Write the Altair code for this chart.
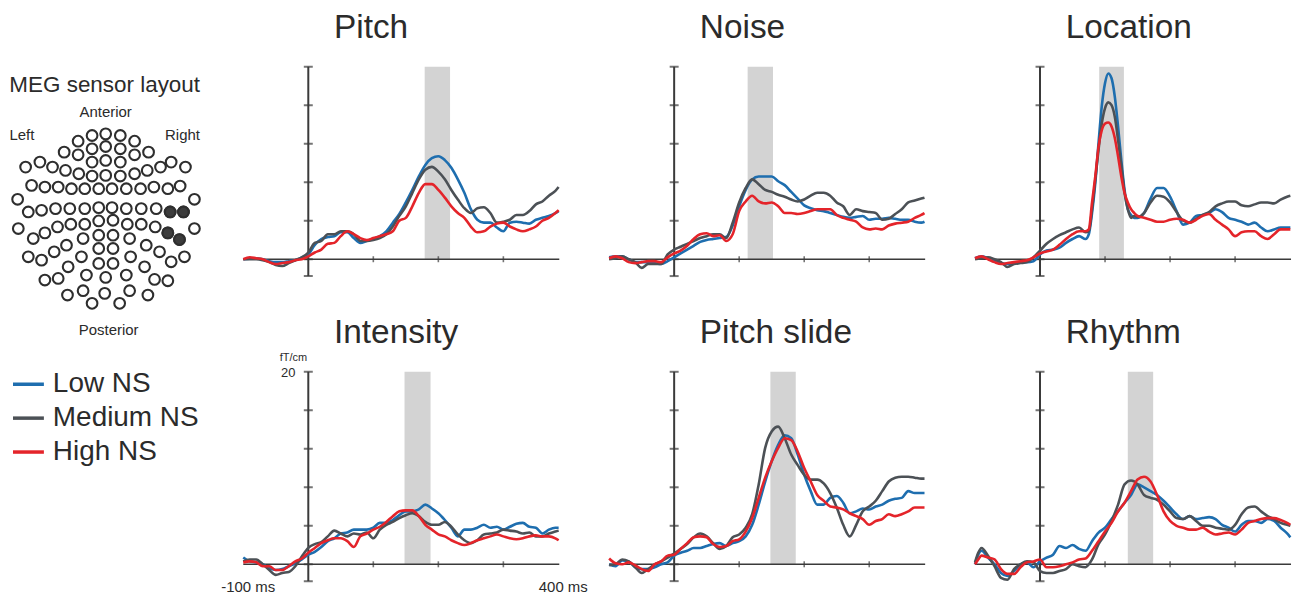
import altair as alt
import pandas as pd

FONT = "Liberation Sans"
TXT = "#2b2b2b"
AX = "#3a3a3a"

LEVELS = ["Low NS", "Medium NS", "High NS"]
COLORS = ["#1e6eaf", "#4c5156", "#e4242a"]

# ---- time grids (ms) ----
T = list(range(-100, 381, 10)) + [385]
T_LOC = list(range(-100, 71, 10)) + list(range(75, 146, 5)) + list(range(150, 381, 10)) + [385]
T_RHY = [-100, -95] + list(range(-90, 381, 10)) + [385]

# ---- Pitch ----
pitch_low = [0, 0.05, 0.1, 0, -0.2, -0.3, -0.3, -0.2, -0.1, 0.2,
             0.5, 1.5, 2.1, 2.3, 2.4, 2.8, 2.8, 2.2, 1.7, 1.9,
             2.1, 2.4, 2.9, 3.8, 4.7, 5.9, 7.2, 8.6, 9.8, 10.5,
             10.7, 10.3, 9.5, 8.3, 6.9, 5.2, 4.1, 3.8, 3.8, 3.3,
             2.9, 3.8, 3.9, 3.8, 3.7, 4.1, 4.3, 4.5, 4.8,
             5.0]
pitch_med = [0, 0, 0, -0.1, -0.3, -0.6, -0.7, -0.4, -0.1, 0.2,
             0.7, 1.7, 1.9, 2.6, 2.6, 2.9, 2.9, 2.6, 1.9, 1.9,
             2.0, 2.2, 2.6, 3.4, 4.5, 5.5, 6.9, 8.3, 9.3, 9.6,
             9.1, 8.3, 7.2, 6.2, 5.3, 4.8, 5.3, 5.4, 4.8, 3.8,
             3.9, 4.1, 4.6, 4.6, 5.0, 5.7, 6.0, 6.6, 7.1,
             7.5]
pitch_high = [0, 0.2, 0.1, 0, -0.3, -0.5, -0.4, -0.3, -0.1, 0,
              0.3, 0.7, 1.0, 1.6, 1.7, 2.4, 2.9, 2.6, 2.2, 2.0,
              2.2, 2.4, 2.6, 2.9, 4.0, 4.3, 5.5, 6.9, 7.8, 7.8,
              7.2, 6.4, 5.5, 4.8, 4.3, 3.4, 2.8, 2.9, 3.4, 3.7,
              3.8, 3.4, 3.1, 2.9, 3.1, 3.4, 4.0, 4.3, 4.8,
              5.1]

# ---- Noise ----
noise_low = [0.2, 0.3, 0.3, 0, -0.3, -0.3, -0.3, -0.4, -0.5, -0.2,
             0.2, 0.6, 1.0, 1.4, 1.8, 2.0, 2.1, 2.2, 2.3, 3.5,
             5.5, 7.2, 8.3, 8.6, 8.6, 8.6, 8.1, 7.7, 7.0, 6.3,
             5.6, 5.3, 5.1, 5.0, 4.8, 4.6, 4.4, 4.3, 4.4, 4.5,
             4.1, 4.2, 4.2, 4.3, 4.2, 4.1, 4.1, 3.9, 3.8,
             3.9]
noise_med = [0, 0.1, 0.3, 0, -0.3, -0.9, -0.5, -0.5, -0.5, 0.5,
             1.0, 1.3, 1.6, 1.9, 2.2, 2.4, 2.6, 2.6, 2.2, 3.8,
             5.9, 7.4, 8.3, 7.8, 7.2, 7.0, 6.7, 6.5, 6.2, 6.0,
             6.2, 6.6, 6.9, 6.9, 6.6, 5.9, 5.5, 4.6, 5.2, 5.0,
             4.9, 4.8, 4.1, 4.2, 4.7, 5.2, 5.9, 6.1, 6.3,
             6.4]
noise_high = [0.1, 0.3, 0.1, -0.3, -0.4, -0.3, -0.2, -0.2, -0.3, 0.2,
              0.6, 0.9, 1.4, 2.1, 2.6, 2.7, 2.4, 2.5, 1.9, 2.6,
              5.0, 6.0, 6.6, 6.0, 5.8, 5.9, 5.5, 4.8, 4.8, 4.7,
              4.8, 5.0, 5.2, 5.2, 5.2, 4.6, 4.3, 4.1, 3.9, 3.3,
              3.1, 3.2, 3.1, 3.5, 3.7, 3.8, 3.9, 4.3, 4.6,
              4.8]

# ---- Location ----
loc_low = [0.1, 0.3, 0.1, -0.2, -0.4, -0.5, -0.4, -0.3, -0.3, -0.2,
           0.5, 0.9, 1.0, 1.2, 1.7, 2.1, 2.4, 2.1,
           2.6, 4.8, 7.9, 12.1, 15.9, 18.3, 19.3, 18.8, 16.9, 13.8, 10.3, 7.2, 5.2, 4.6, 4.3,
           4.3, 4.8, 6.3, 7.4, 7.4, 6.5, 5.0, 3.6, 3.8, 4.5, 4.6, 4.8, 5.2, 4.9, 4.3, 4.1,
           3.9, 3.6, 3.8, 3.3, 2.9, 3.1, 3.3, 3.3,
           3.3]
loc_med = [0, 0.1, 0.2, 0, -0.3, -0.8, -0.5, -0.4, -0.3, 0.2,
           0.9, 1.6, 2.1, 2.5, 2.8, 3.1, 3.3, 2.8,
           2.9, 5.2, 8.3, 11.4, 14.1, 15.7, 16.3, 16.0, 14.8, 12.4, 9.7, 6.9, 5.2, 4.3, 4.5,
           4.4, 4.8, 5.9, 6.6, 6.5, 5.9, 4.9, 4.0, 3.8, 4.2, 4.6, 4.9, 5.5, 5.8, 6.0, 6.0,
           5.6, 5.5, 5.7, 5.9, 5.9, 5.8, 6.2, 6.5,
           6.6]
loc_high = [0.1, 0.3, 0, -0.3, -0.5, -0.4, -0.3, -0.2, -0.1, 0.2,
            0.6, 0.8, 1.0, 1.5, 2.1, 2.6, 2.9, 2.9,
            3.1, 5.9, 8.6, 11.7, 13.4, 14.1, 14.2, 13.8, 12.6, 10.7, 8.6, 6.9, 5.9, 5.2, 4.8,
            4.5, 4.3, 4.1, 3.9, 3.9, 4.1, 4.2, 4.1, 3.8, 4.1, 4.5, 4.7, 4.1, 3.6, 3.1, 2.4,
            2.8, 2.9, 2.9, 2.4, 2.1, 2.6, 3.1, 3.1,
            3.1]

# ---- Intensity ----
int_low = [0.7, 0.3, 0.2, 0, -0.4, -0.6, -0.5, -0.2, 0.1, 0.5,
           1.0, 1.3, 1.8, 2.4, 2.7, 3.2, 3.3, 3.6, 3.6, 3.6,
           3.8, 4.3, 4.3, 4.6, 5.1, 5.5, 5.5, 5.7, 6.2, 5.8,
           5.3, 4.6, 3.8, 2.9, 3.6, 3.6, 3.8, 4.1, 3.8, 3.9,
           3.6, 3.9, 4.2, 4.3, 3.9, 3.8, 3.2, 3.6, 3.8,
           3.8]
int_med = [0.3, 0.5, 0.5, 0, -0.6, -1.1, -0.9, -0.8, -0.2, 0.8,
           1.7, 2.1, 2.3, 2.9, 3.5, 3.2, 2.9, 3.2, 3.1, 3.3,
           2.7, 3.6, 4.1, 4.4, 4.8, 5.1, 5.3, 5.0, 4.4, 4.1,
           4.1, 4.4, 3.9, 3.1, 2.5, 2.2, 2.5, 3.1, 3.2, 3.3,
           3.6, 3.5, 3.4, 3.2, 3.3, 2.9, 2.9, 3.2, 3.4,
           3.5]
int_high = [0.2, 0.3, 0.2, -0.2, -0.2, -0.6, -0.6, -0.2, 0.3, 0.6,
            1.2, 1.7, 2.2, 2.5, 2.7, 2.7, 2.4, 1.8, 2.9, 3.2,
            3.6, 3.9, 4.4, 5.0, 5.5, 5.6, 5.6, 5.0, 4.1, 3.6,
            3.1, 2.9, 2.5, 2.2, 2.0, 2.2, 2.5, 2.7, 2.9, 3.1,
            2.9, 2.7, 2.6, 2.7, 2.9, 3.0, 2.9, 2.9, 2.7,
            2.5]

# ---- Pitch slide ----
slide_low = [0, -0.2, 0.4, 0.3, -0.3, -0.5, -0.5, -0.3, 0, 0.2,
             0.9, 1.2, 1.4, 1.7, 1.7, 1.9, 2.1, 2.2, 1.9, 2.2,
             2.4, 2.9, 4.1, 6.2, 8.6, 10.7, 12.4, 13.4, 13.1, 11.4,
             9.3, 7.6, 6.2, 6.2, 6.9, 7.1, 6.4, 5.3, 5.5, 5.8,
             5.7, 6.0, 6.2, 6.6, 6.8, 6.9, 7.6, 7.4, 7.4,
             7.4]
slide_med = [-0.1, 0, 0.5, 0.3, -0.3, -0.9, -0.5, 0, 0.3, 0.7,
             1.1, 1.6, 2.1, 2.8, 3.2, 2.9, 2.2, 1.6, 1.9, 2.8,
             3.1, 3.8, 5.2, 8.3, 12.1, 13.8, 14.3, 13.1, 11.4, 10.3,
             9.3, 8.8, 8.8, 8.4, 7.4, 5.9, 4.1, 2.9, 4.1, 5.5,
             6.0, 6.6, 7.6, 8.6, 9.0, 9.1, 9.1, 9.0, 8.9,
             8.9]
slide_high = [0.6, 0.1, 0, 0.2, -0.1, -0.5, -0.7, 0, 0.3, 0.9,
              1.0, 1.6, 2.2, 2.8, 2.9, 2.8, 2.1, 1.8, 1.9, 2.4,
              2.6, 3.4, 4.8, 6.9, 9.0, 10.7, 12.1, 13.1, 12.9, 11.7,
              10.0, 8.6, 7.2, 6.6, 6.0, 5.9, 5.7, 5.3, 5.0, 4.7,
              4.1, 4.5, 4.7, 5.2, 5.0, 5.2, 5.5, 5.9, 5.9,
              5.9]

# ---- Rhythm ----
rhy_low = [0, 1.0, 1.4, 0.7, 0, -0.9, -1.2, -0.7, 0, 0.2, -0.3,
           0.3, 0.7, 1.0, 1.9, 1.7, 2.0, 1.6, 1.4, 2.4, 3.3,
           3.8, 4.7, 5.5, 6.4, 7.2, 8.3, 8.0, 7.6, 7.2, 6.6,
           5.9, 5.2, 4.7, 5.0, 4.7, 4.8, 4.9, 4.7, 4.1, 3.8,
           3.4, 4.1, 4.5, 4.5, 4.3, 4.7, 4.5, 3.8, 3.2,
           2.8]
rhy_med = [0.2, 1.2, 1.7, 0.9, -0.2, -1.4, -1.6, -0.5, 0, 0.3, 0.2,
           -0.7, -0.9, -0.9, -0.7, -0.5, 0, -0.2, -0.3, 0.5, 2.1,
           3.1, 4.5, 6.2, 8.3, 8.7, 8.3, 7.2, 6.9, 6.7, 6.2,
           5.5, 4.8, 4.7, 5.0, 4.5, 4.0, 4.0, 3.8, 3.7, 3.6,
           4.1, 5.2, 5.9, 6.0, 5.5, 5.0, 4.7, 4.3, 4.1,
           4.0]
rhy_high = [0, 0.5, 0.9, 0.7, 0.5, -0.5, -1.0, -1.0, -0.3, 0.2, 0.3,
            0.5, -0.3, -0.3, -0.2, 0, 0.2, 0.5, 0.6, 1.4, 2.4,
            3.4, 4.3, 5.5, 6.4, 7.6, 8.8, 9.1, 8.6, 7.2, 5.5,
            4.5, 4.0, 3.8, 3.6, 3.6, 3.8, 3.4, 3.1, 3.2, 3.3,
            3.1, 3.6, 4.3, 4.5, 4.7, 4.8, 4.8, 4.6, 4.3,
            4.1]

# analysis windows (ms) shaded grey
WINDOWS = {"Pitch": (179, 218), "Noise": (113, 152), "Location": (91, 129),
           "Intensity": (148, 188), "Pitch slide": (148, 187), "Rhythm": (135, 174)}

X_MIN, X_MAX = -100, 386
Y_MIN, Y_MAX = -1.75, 20
Y_TICKS = [-1.75, 0, 4, 8, 12, 16, 20]
X_TICKS = [100, 200, 300]
AXIS_TEXTS = ["fT/cm", "20", "-100 ms", "400 ms"]

# ---- sensor layout (layout units) ----
SENSORS = [
    (262, 45), (303, 40), (347, 45), (220, 62), (390, 62),
    (262, 85), (303, 78), (347, 85), (178, 95), (432, 95),
    (220, 103), (390, 103), (262, 125), (303, 120), (347, 125),
    (105, 125), (500, 125), (62, 140), (143, 140), (468, 140), (543, 140),
    (182, 150), (428, 150), (222, 160), (390, 160),
    (262, 167), (303, 165), (347, 167),
    (80, 195), (120, 200), (160, 200), (200, 205), (240, 205), (282, 205),
    (322, 205), (365, 205), (408, 205), (448, 200), (490, 205), (527, 197),
    (38, 237), (570, 237),
    (70, 275), (110, 270), (152, 265), (195, 265), (240, 265), (282, 262),
    (322, 262), (365, 265), (410, 265), (455, 265), (497, 275), (537, 275),
    (40, 325), (120, 338), (158, 320), (198, 312), (240, 312), (282, 302),
    (325, 300), (368, 312), (410, 312), (452, 320), (490, 338), (570, 325),
    (85, 355), (525, 358),
    (282, 345), (325, 345), (235, 355), (375, 355), (185, 375), (425, 375),
    (148, 395), (465, 395), (70, 410), (110, 420), (540, 410), (500, 425),
    (282, 385), (325, 385), (230, 410), (378, 410),
    (190, 440), (420, 440), (282, 430), (325, 430),
    (120, 480), (160, 475), (245, 465), (365, 465), (450, 478), (490, 482), (303, 472),
    (188, 525), (235, 512), (300, 520), (375, 512), (430, 525),
    (262, 550), (345, 550),
]
SELECTED = [(497, 275), (537, 275), (490, 338), (525, 358)]
LEFT_TEXTS = ["MEG sensor layout", "Anterior", "Left", "Right", "Posterior"]

PANEL_W, PANEL_H = 317, 210
LEFT_W = 186
ONE = pd.DataFrame({"k": [0]})


def panel(title, times, low, med, high, labelled=False):
    assert len(times) == len(low) == len(med) == len(high), title
    rows = []
    for lvl, vals in zip(LEVELS, (low, med, high)):
        for t, v in zip(times, vals):
            rows.append({"t": t, "v": v, "level": lvl})
    df = pd.DataFrame(rows)
    xs = alt.Scale(domain=[X_MIN, X_MAX], nice=False, zero=False)
    ys = alt.Scale(domain=[Y_MIN, Y_MAX], nice=False, zero=False)
    w0, w1 = WINDOWS[title]

    band = alt.Chart(pd.DataFrame({"start": [w0], "end": [w1]})).mark_rect(
        color="#d3d3d3").encode(
        x=alt.X("start:Q", scale=xs, axis=None), x2="end:Q",
        y=alt.YDatum(0, scale=ys, axis=None), y2=alt.Y2Datum(Y_MAX))

    yaxis = alt.Chart(ONE).mark_rule(color=AX, strokeWidth=2).encode(
        x=alt.XDatum(0, axis=None), y=alt.YDatum(Y_MIN, axis=None), y2=alt.Y2Datum(Y_MAX))
    xaxis = alt.Chart(ONE).mark_rule(color=AX, strokeWidth=1.6).encode(
        y=alt.YDatum(0, axis=None), x=alt.XDatum(X_MIN, axis=None), x2=alt.X2Datum(X_MAX))
    yt = alt.Chart(pd.DataFrame({"v": Y_TICKS})).mark_tick(
        orient="horizontal", size=9, thickness=2, color=AX).encode(
        x=alt.XDatum(0, axis=None), y=alt.Y("v:Q", axis=None))
    xt = alt.Chart(pd.DataFrame({"t": X_TICKS})).mark_tick(
        orient="vertical", size=6, thickness=1.6, color=AX).encode(
        x=alt.X("t:Q", axis=None), y=alt.YDatum(0, axis=None))

    lines = alt.Chart(df).mark_line(strokeWidth=2.6, interpolate="monotone").encode(
        x=alt.X("t:Q", scale=xs, axis=None),
        y=alt.Y("v:Q", scale=ys, axis=None),
        color=alt.Color("level:N", scale=alt.Scale(domain=LEVELS, range=COLORS),
                        legend=alt.Legend(orient="none", legendX=3, legendY=301,
                                          title=None, symbolType="stroke",
                                          symbolSize=961, symbolStrokeWidth=3.5,
                                          labelFont=FONT, labelFontSize=28,
                                          labelColor=TXT, labelOffset=7,
                                          rowPadding=2, padding=0)),
    )
    ttl = alt.Chart(pd.DataFrame({"s": [title]})).mark_text(
        font=FONT, fontSize=33.5, color=TXT, align="left", baseline="alphabetic",
        dx=91, dy=-29).encode(text="s:N", x=alt.XDatum(X_MIN, axis=None),
                              y=alt.YDatum(Y_MAX, axis=None))
    layers = [band, xaxis, yaxis, yt, xt, lines, ttl]
    if labelled:
        base = alt.Chart(pd.DataFrame({"s": AXIS_TEXTS}))
        layers += [
            base.transform_filter(alt.datum.s == "fT/cm").mark_text(
                font=FONT, fontSize=11, color=TXT, align="center", baseline="middle",
                dx=-15, dy=-14).encode(text="s:N", x=alt.XDatum(0, axis=None),
                                       y=alt.YDatum(Y_MAX, axis=None)),
            base.transform_filter(alt.datum.s == "20").mark_text(
                font=FONT, fontSize=13, color=TXT, align="right", baseline="middle",
                dx=-13, dy=1).encode(text="s:N", x=alt.XDatum(0, axis=None),
                                     y=alt.YDatum(Y_MAX, axis=None)),
            base.transform_filter(alt.datum.s == "-100 ms").mark_text(
                font=FONT, fontSize=15, color=TXT, align="center", baseline="middle",
                dx=5, dy=6).encode(text="s:N", x=alt.XDatum(X_MIN, axis=None),
                                   y=alt.YDatum(Y_MIN, axis=None)),
            base.transform_filter(alt.datum.s == "400 ms").mark_text(
                font=FONT, fontSize=15, color=TXT, align="center", baseline="middle",
                dx=4, dy=6).encode(text="s:N", x=alt.XDatum(X_MAX, axis=None),
                                   y=alt.YDatum(Y_MIN, axis=None)),
        ]
    return alt.layer(*layers).properties(width=PANEL_W, height=PANEL_H)


# ---- left column: sensor layout ----
sens = pd.DataFrame({"sx": [p[0] for p in SENSORS], "sy": [p[1] for p in SENSORS],
                     "sel": [p in SELECTED for p in SENSORS]})
lx = alt.Scale(domain=[9, 9 + 3 * LEFT_W], nice=False, zero=False)
ly = alt.Scale(domain=[-162, 3 * (PANEL_H - 54)], nice=False, zero=False, reverse=True)
rings = alt.Chart(sens).mark_point(shape="circle", filled=False, size=115, strokeWidth=2.1,
                                   color="#2e2e2e", opacity=1).encode(
    x=alt.X("sx:Q", scale=lx, axis=None), y=alt.Y("sy:Q", scale=ly, axis=None))
dots = alt.Chart(sens).transform_filter("datum.sel").mark_point(
    shape="circle", filled=True, size=115, color="#3c3c3c", stroke="#2e2e2e",
    strokeWidth=2.1, opacity=1).encode(
    x=alt.X("sx:Q", scale=lx, axis=None), y=alt.Y("sy:Q", scale=ly, axis=None))


def left_label(i, x, y, size):
    return alt.Chart(pd.DataFrame({"s": [LEFT_TEXTS[i]]})).mark_text(
        font=FONT, fontSize=size, color=TXT, align="center", baseline="middle").encode(
        text="s:N", x=alt.value(x), y=alt.value(y))


left_top = alt.layer(
    rings, dots,
    left_label(0, 97, 18, 22.5),
    left_label(1, 98, 45, 15),
    left_label(2, 14, 68, 15),
    left_label(3, 175, 68, 15),
    left_label(4, 101, 264, 15),
).properties(width=LEFT_W, height=PANEL_H)

left_bottom = alt.Chart(ONE).mark_text(text="").encode(
    x=alt.value(0), y=alt.value(0)).properties(width=LEFT_W, height=PANEL_H)

chart = alt.concat(
    left_top,
    panel("Pitch", T, pitch_low, pitch_med, pitch_high),
    panel("Noise", T, noise_low, noise_med, noise_high),
    panel("Location", T_LOC, loc_low, loc_med, loc_high),
    left_bottom,
    panel("Intensity", T, int_low, int_med, int_high, labelled=True),
    panel("Pitch slide", T, slide_low, slide_med, slide_high),
    panel("Rhythm", T_RHY, rhy_low, rhy_med, rhy_high),
    columns=4, spacing={"row": 96, "column": 50}, bounds="flush", align="each",
).resolve_scale(color="shared").properties(
    padding={"left": 0, "top": 2, "right": 0, "bottom": 0},
    background="white",
).configure_view(stroke=None)

chart.save("out.html", embed_options={"renderer": "svg", "actions": False})
